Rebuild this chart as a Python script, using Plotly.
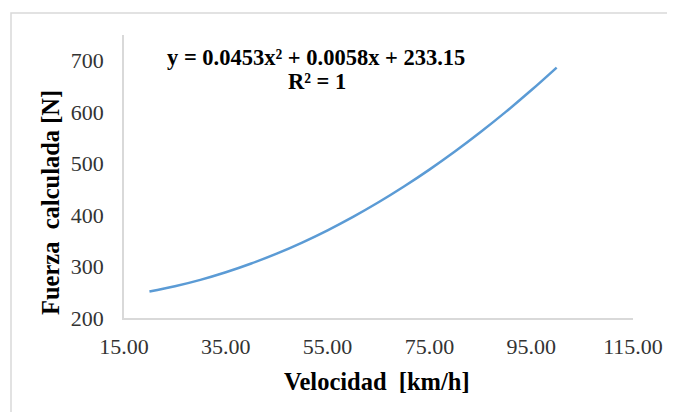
import plotly.graph_objects as go

velocidad = [20, 25, 30, 35, 40, 45, 50, 55, 60, 65, 70, 75, 80, 85, 90, 95, 100]
fuerza = [251.39, 261.61, 274.09, 288.85, 305.86, 325.14, 346.69, 370.50, 396.58,
          424.92, 455.53, 488.40, 523.53, 560.94, 600.60, 642.53, 686.73]
x_ticks = [15, 35, 55, 75, 95, 115]
y_ticks = [200, 300, 400, 500, 600, 700]
equation = "y = 0.0453x² + 0.0058x + 233.15"
r2 = "R² = 1"

FONT = "Liberation Serif, Times New Roman, serif"

# The page body has an 8px margin, so figure coordinates = window coordinates - 8
OFF = 8
W, H = 675 - OFF, 412 - OFF
PL, PR, PT, PB = 124 - OFF, 633 - OFF, 35 - OFF, 318 - OFF
PW, PH = PR - PL, PB - PT


def px(x):
    return (x - OFF - PL) / PW


def py(y):
    return (PB - (y - OFF)) / PH


fig = go.Figure()
fig.add_trace(go.Scatter(x=velocidad, y=fuerza, mode="lines",
                         line=dict(color="#5B9BD5", width=2.5, shape="spline"),
                         showlegend=False))

fig.update_layout(
    width=W, height=H,
    margin=dict(l=PL, r=W - PR, t=PT, b=H - PB, autoexpand=False),
    paper_bgcolor="white", plot_bgcolor="white",
    font=dict(family=FONT, size=22, color="#404040"),
    xaxis=dict(range=[15, 115], tickvals=x_ticks, ticktext=[f"{v:.2f}" for v in x_ticks],
               showgrid=False, zeroline=False, showline=True, linecolor="#D9D9D9",
               linewidth=1.5, ticks="", automargin=False, ticklabelstandoff=8,
               tickfont=dict(family=FONT, size=22, color="#333333")),
    yaxis=dict(range=[200, 750], tickvals=y_ticks,
               showgrid=False, zeroline=False, showline=True, linecolor="#D9D9D9",
               linewidth=1.5, ticks="", automargin=False, ticklabelstandoff=14,
               tickfont=dict(family=FONT, size=22, color="#333333")),
    shapes=[dict(type="rect", xref="paper", yref="paper",
                 x0=px(11), x1=px(700), y0=py(430), y1=py(13),
                 line=dict(color="#D9D9D9", width=1.5), fillcolor="rgba(0,0,0,0)")],
    annotations=[
        dict(text="<b>" + equation + "</b>", xref="paper", yref="paper",
             x=px(316), y=py(57), showarrow=False,
             xanchor="center", yanchor="middle",
             font=dict(family=FONT, size=22.5, color="black")),
        dict(text="<b>" + r2 + "</b>", xref="paper", yref="paper",
             x=px(317), y=py(82), showarrow=False,
             xanchor="center", yanchor="middle",
             font=dict(family=FONT, size=22.5, color="black")),
        dict(text="<b>Velocidad \u00a0[km/h]</b>", xref="paper", yref="paper",
             x=px(377), y=py(381), showarrow=False,
             xanchor="center", yanchor="middle",
             font=dict(family=FONT, size=24.5, color="black")),
        dict(text="<b>Fuerza \u00a0calculada [N]</b>", xref="paper", yref="paper",
             x=px(50), y=py(203), showarrow=False, textangle=-90,
             xanchor="center", yanchor="middle",
             font=dict(family=FONT, size=24.5, color="black")),
    ],
)

fig.write_html("out.html")
